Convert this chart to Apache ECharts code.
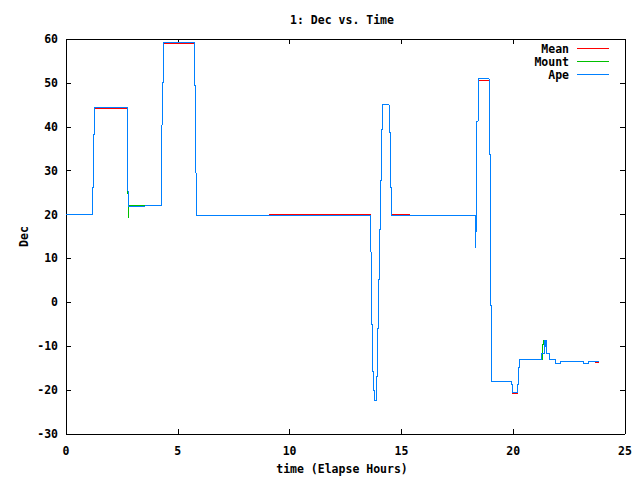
<!DOCTYPE html>
<html>
<head>
<meta charset="utf-8">
<script src="https://cdn.jsdelivr.net/npm/echarts@6/dist/echarts.min.js"></script>
<style>html,body{margin:0;padding:0;background:#fff}#c{width:640px;height:480px}
#c svg path{shape-rendering:crispEdges}</style>
</head>
<body>
<div id="c"></div>
<script>
// Ape series (time in elapsed hours, Dec in degrees), step changes
var apeTime = [0, 1.18, 1.22, 1.27, 2.76, 2.77, 2.80, 2.89, 4.28, 4.31, 4.35, 5.74, 5.78, 5.83,
  13.61, 13.65, 13.70, 13.74, 13.79, 13.88, 13.92, 13.97, 14.01, 14.06, 14.10, 14.15, 14.46, 14.50, 14.55,
  18.30, 18.33, 18.35, 18.38, 18.44, 18.93, 18.98, 19.04, 19.93, 19.97, 20.19, 20.23, 20.27,
  21.27, 21.39, 21.44, 21.46, 21.50, 21.61, 21.87, 22.12, 23.14, 23.36, 23.85];
var apeDec = [20.0, 26.2, 38.3, 44.5, 38.3, 25.9, 21.9, 22.0, 31.4, 50.0, 59.2, 49.4, 29.5, 19.8,
  11.5, -5.1, -15.8, -20.1, -22.4, -16.9, -5.9, 5.1, 16.5, 27.7, 39.3, 45.0, 38.8, 26.2, 19.8,
  16.5, 12.4, 22.2, 41.3, 50.9, 33.6, -0.8, -18.0, -18.7, -20.5, -18.7, -14.9, -13.0,
  -11.7, -8.6, -10.2, -8.6, -11.7, -13.0, -14.0, -13.5, -14.0, -13.5, -13.5];

// Mean series
var meanTime = [0, 1.18, 1.22, 1.27, 2.76, 2.77, 2.80, 2.89, 4.28, 4.31, 4.35, 5.74, 5.78, 5.83, 9.10,
  13.61, 13.65, 13.70, 13.74, 13.79, 13.88, 13.92, 13.97, 14.01, 14.06, 14.10, 14.15, 14.46, 14.50, 14.55, 15.37,
  18.30, 18.33, 18.35, 18.38, 18.44, 18.93, 18.98, 19.04, 19.93, 19.97, 20.19, 20.23, 20.27,
  21.27, 21.39, 21.50, 21.61, 21.87, 22.12, 23.14, 23.36, 23.70, 23.85];
var meanDec = [20.0, 26.2, 38.3, 44.2, 38.3, 25.7, 21.9, 22.0, 31.4, 50.0, 58.9, 49.4, 29.5, 19.8, 20.1,
  11.5, -5.1, -15.8, -20.1, -22.4, -16.9, -5.9, 5.1, 16.5, 27.7, 39.3, 45.0, 38.8, 26.2, 20.1, 19.8,
  16.5, 12.4, 22.2, 41.3, 50.6, 33.6, -0.8, -18.0, -18.7, -20.8, -18.7, -14.9, -13.0,
  -11.7, -8.6, -11.7, -13.0, -14.0, -13.5, -14.0, -13.5, -13.8, -13.8];

// Mount series
var mountTime = [0, 1.18, 1.22, 1.27, 2.76, 2.77, 2.80, 2.82, 4.28, 4.31, 4.35, 5.74, 5.78, 5.83,
  13.61, 13.65, 13.70, 13.74, 13.79, 13.88, 13.92, 13.97, 14.01, 14.06, 14.10, 14.15, 14.46, 14.50, 14.55,
  18.30, 18.33, 18.35, 18.38, 18.44, 18.93, 18.98, 19.04, 19.93, 19.97, 20.19, 20.23, 20.27,
  21.30, 21.34, 21.50, 21.61, 21.87, 22.12, 23.14, 23.36, 23.85];
var mountDec = [20.0, 26.2, 38.3, 44.5, 38.3, 25.5, 19.2, 22.0, 31.4, 50.0, 59.2, 49.4, 29.5, 19.8,
  11.5, -5.1, -15.8, -20.1, -22.4, -16.9, -5.9, 5.1, 16.5, 27.7, 39.3, 45.0, 38.8, 26.2, 19.8,
  16.5, 12.4, 22.2, 41.3, 50.9, 33.6, -0.8, -18.0, -18.7, -20.5, -18.7, -14.9, -13.0,
  -9.6, -8.6, -11.7, -13.0, -14.0, -13.5, -14.0, -13.5, -13.5];

var seriesNames = ['Mean', 'Mount', 'Ape'];
var seriesColors = ['#ff0000', '#00c000', '#0080ff'];

function pairs(t, v) { return t.map(function (x, i) { return [x, v[i]]; }); }

var FONT = 'DejaVu Sans Mono';
var FS = 11.5;
var chart = echarts.init(document.getElementById('c'), null, {renderer: 'svg'});
function axisBase(show, margin) {
  return {
    axisLine: {show: true, onZero: false, lineStyle: {color: '#000', width: 1}},
    axisTick: {show: true, inside: true, length: 5, lineStyle: {color: '#000'}},
    splitLine: {show: false},
    axisLabel: {show: show, margin: margin, color: '#000', fontFamily: FONT, fontWeight: 'bold', fontSize: FS}
  };
}
var txt = {fontFamily: FONT, fontWeight: 'bold', fontSize: FS, color: '#000'};
var option = {
  animation: false,
  backgroundColor: '#fff',
  title: {text: '1: Dec vs. Time', left: 337, top: 9, textAlign: 'center', textStyle: txt},
  legend: {
    orient: 'vertical', right: 31, top: 42, align: 'right', padding: 0,
    icon: 'rect', itemWidth: 32, itemHeight: 1, itemGap: 0,
    textStyle: Object.assign({lineHeight: 13, padding: [0, 3, 0, 0]}, txt),
    data: seriesNames.map(function (n, i) {
      return {name: n, itemStyle: {color: seriesColors[i], borderWidth: 0}};
    })
  },
  grid: {left: 66, right: 15, top: 39, bottom: 42, containLabel: false},
  xAxis: [
    Object.assign(axisBase(true, 11), {
      type: 'value', min: 0, max: 25, interval: 5, position: 'bottom',
      name: 'time (Elapse Hours)', nameLocation: 'middle', nameGap: 29, nameMoveOverlap: false,
      nameTextStyle: Object.assign({padding: [0, 7, 0, 0]}, txt)
    }),
    Object.assign(axisBase(false, 8), {type: 'value', min: 0, max: 25, interval: 5, position: 'top'})
  ],
  yAxis: [
    Object.assign(axisBase(true, 8), {
      type: 'value', min: -30, max: 60, interval: 10, position: 'left',
      name: 'Dec', nameLocation: 'middle', nameGap: 36, nameMoveOverlap: false, nameTextStyle: txt
    }),
    Object.assign(axisBase(false, 8), {type: 'value', min: -30, max: 60, interval: 10, position: 'right'})
  ],
  series: [
    {name: 'Mean', type: 'line', step: 'end', symbol: 'none', data: pairs(meanTime, meanDec),
      color: seriesColors[0], lineStyle: {width: 1, color: seriesColors[0]}},
    {name: 'Mount', type: 'line', step: 'end', symbol: 'none', data: pairs(mountTime, mountDec),
      color: seriesColors[1], lineStyle: {width: 1, color: seriesColors[1]}},
    {name: 'Ape', type: 'line', step: 'end', symbol: 'none', data: pairs(apeTime, apeDec),
      color: seriesColors[2], lineStyle: {width: 1, color: seriesColors[2]}}
  ]
};
chart.setOption(option);
</script>
</body>
</html>
